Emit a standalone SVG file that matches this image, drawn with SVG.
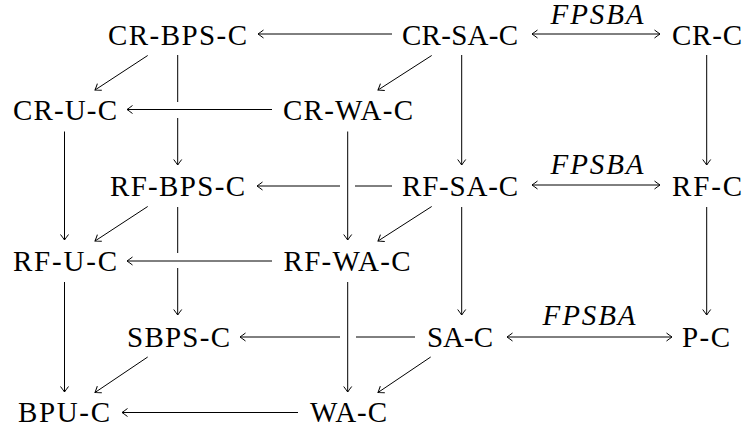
<svg xmlns="http://www.w3.org/2000/svg" width="745" height="432" viewBox="0 0 745 432">
  <style>
    text { font-family: "Liberation Serif", "Noto Serif", "DejaVu Serif", Tinos, FreeSerif, Times, "Times New Roman", serif; }
    .n { font-size: 29px; fill: #000; text-anchor: middle; }
    .lbl { font-size: 29px; font-style: italic; fill: #000; text-anchor: middle; }
    .e { stroke: #000; stroke-width: 1; fill: none; }
    .a { marker-end: url(#tip); }
    .b { marker-start: url(#tip); marker-end: url(#tip); }
  </style>
  <defs>
    <marker id="tip" markerUnits="userSpaceOnUse" viewBox="-7 -5 8 10" refX="0" refY="0" markerWidth="8" markerHeight="10" orient="auto-start-reverse">
      <path d="M -5.5 -4 Q -1.5 -1 0 0 Q -1.5 1 -5.5 4" fill="none" stroke="#000" stroke-width="1"/>
    </marker>
  </defs>
  <rect width="745" height="432" fill="#fff"/>

  <g id="connectors">
    <!-- horizontal arrows pointing left -->
    <path class="e a" d="M 392 34 H 258"/>
    <path class="e a" d="M 272 109.5 H 127"/>
    <path class="e" d="M 392 186 H 355"/>
    <path class="e a" d="M 340 186 H 257"/>
    <path class="e a" d="M 272 261 H 127"/>
    <path class="e" d="M 415 337 H 356"/>
    <path class="e a" d="M 340 337 H 240"/>
    <path class="e a" d="M 298 412.5 H 122"/>

    <!-- two-way arrows -->
    <path class="e b" d="M 532 34 H 660"/>
    <path class="e b" d="M 532 185 H 660"/>
    <path class="e b" d="M 507 337 H 672"/>

    <!-- vertical arrows -->
    <path class="e a" d="M 64.5 131.5 V 240"/>
    <path class="e a" d="M 64.5 282 V 392"/>
    <path class="e" d="M 177.7 55 V 102"/>
    <path class="e a" d="M 177.7 118 V 165"/>
    <path class="e" d="M 177.7 207 V 253"/>
    <path class="e a" d="M 177.7 268 V 315"/>
    <path class="e a" d="M 347.7 131.5 V 240"/>
    <path class="e a" d="M 347.7 282 V 392"/>
    <path class="e a" d="M 461.7 55 V 165"/>
    <path class="e a" d="M 461.7 207 V 315"/>
    <path class="e a" d="M 706.7 55 V 165"/>
    <path class="e a" d="M 706.7 207 V 315"/>

    <!-- diagonal arrows -->
    <path class="e a" d="M 147.7 55.5 L 95 90"/>
    <path class="e a" d="M 431.7 55.5 L 378 90"/>
    <path class="e a" d="M 147.7 206.5 L 95 241"/>
    <path class="e a" d="M 431.7 206.5 L 378 241"/>
    <path class="e a" d="M 147.7 357 L 95 392.5"/>
    <path class="e a" d="M 430.7 357 L 378 392.5"/>

    <!-- arrow labels -->
    <text class="lbl" x="597" y="24" textLength="93">FPSBA</text>
    <text class="lbl" x="597" y="174" textLength="93">FPSBA</text>
    <text class="lbl" x="589" y="325" textLength="93">FPSBA</text>
  </g>

  <g id="CR-BPS-C"><text class="n" x="177.5" y="44.5" textLength="139">CR-BPS-C</text></g>
  <g id="CR-SA-C"><text class="n" x="460" y="44.5" textLength="116">CR-SA-C</text></g>
  <g id="CR-C"><text class="n" x="707" y="44.5" textLength="70">CR-C</text></g>
  <g id="CR-U-C"><text class="n" x="65" y="119.5" textLength="104">CR-U-C</text></g>
  <g id="CR-WA-C"><text class="n" x="348" y="119.5" textLength="130">CR-WA-C</text></g>
  <g id="RF-BPS-C"><text class="n" x="177.5" y="196" textLength="135">RF-BPS-C</text></g>
  <g id="RF-SA-C"><text class="n" x="460" y="196" textLength="116">RF-SA-C</text></g>
  <g id="RF-C"><text class="n" x="707" y="196" textLength="70">RF-C</text></g>
  <g id="RF-U-C"><text class="n" x="65" y="271" textLength="104">RF-U-C</text></g>
  <g id="RF-WA-C"><text class="n" x="347" y="271" textLength="127">RF-WA-C</text></g>
  <g id="SBPS-C"><text class="n" x="178.5" y="346.5" textLength="103">SBPS-C</text></g>
  <g id="SA-C"><text class="n" x="460" y="346.5" textLength="66">SA-C</text></g>
  <g id="P-C"><text class="n" x="706" y="346.5" textLength="48">P-C</text></g>
  <g id="BPU-C"><text class="n" x="64" y="422" textLength="92">BPU-C</text></g>
  <g id="WA-C"><text class="n" x="348.5" y="422" textLength="77">WA-C</text></g>
</svg>
